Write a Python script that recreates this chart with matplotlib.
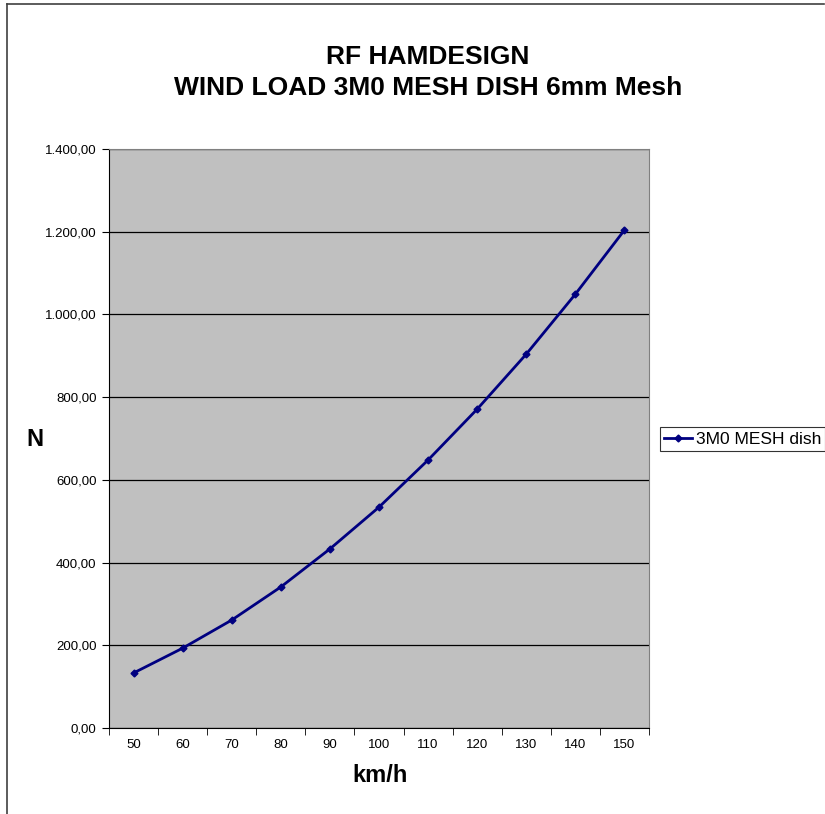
import matplotlib.pyplot as plt
import numpy as np
from matplotlib.lines import Line2D
from matplotlib.ticker import FuncFormatter

plt.rcParams['font.family'] = ['Liberation Sans', 'DejaVu Sans']

speeds = [50, 60, 70, 80, 90, 100, 110, 120, 130, 140, 150]
load = [133, 193, 261, 341, 433, 534, 648, 771, 904, 1049, 1204]


def de_fmt(v, pos):
    s = f"{v:,.2f}"
    return s.replace(',', 'X').replace('.', ',').replace('X', '.')


fig = plt.figure(figsize=(8.25, 8.14), dpi=100)
ax = fig.add_axes([109/825, 1-728/814, 540/825, 579/814])
ax.set_facecolor('#C0C0C0')

x = np.arange(len(speeds))
ax.plot(x, load, color='#000080', lw=2, marker='D', ms=3.5,
        label='3M0 MESH dish')

ax.set_xlim(-0.5, len(speeds) - 0.5)
ax.set_ylim(0, 1400)
ax.set_yticks(np.arange(0, 1401, 200))
ax.yaxis.set_major_formatter(FuncFormatter(de_fmt))
ax.grid(axis='y', color='black', lw=0.9)
ax.set_axisbelow(True)

ax.set_xticks(x)
ax.set_xticklabels([str(s) for s in speeds])
ax.set_xticks(np.arange(-0.5, len(speeds), 1), minor=True)
ax.tick_params(axis='x', which='major', length=0, pad=8, labelsize=9.5)
ax.tick_params(axis='x', which='minor', length=5, direction='out', color='black')
ax.tick_params(axis='y', length=5, direction='out', labelsize=9.5, pad=4)

for side in ['top', 'right']:
    ax.spines[side].set_color('#808080')
for side in ['left', 'bottom']:
    ax.spines[side].set_color('black')

fig.text(428/825, 1-57/814, 'RF HAMDESIGN', ha='center', va='center',
         fontsize=19, fontweight='bold')
fig.text(428/825, 1-88/814, 'WIND LOAD 3M0 MESH DISH 6mm Mesh', ha='center',
         va='center', fontsize=19, fontweight='bold')
fig.text(35/825, 1-439/814, 'N', ha='center', va='center', fontsize=17,
         fontweight='bold')
fig.text(380/825, 1-776/814, 'km/h', ha='center', va='center', fontsize=17,
         fontweight='bold')

leg = fig.legend(loc='center left', bbox_to_anchor=(660/825, 1-439/814),
                 frameon=True, fancybox=False, edgecolor='black',
                 fontsize=12.5, handlelength=1.6, handletextpad=0.2,
                 borderpad=0.25, borderaxespad=0)
leg.get_frame().set_linewidth(0.8)

# chart area border (left and top visible)
fig.add_artist(Line2D([7/825, 7/825], [-0.1, 1-4/814], color='#404040',
                      lw=1.2, transform=fig.transFigure))
fig.add_artist(Line2D([7/825, 824/825], [1-4/814, 1-4/814], color='#404040',
                      lw=1.2, transform=fig.transFigure))

fig.savefig('out.png', dpi=100)
